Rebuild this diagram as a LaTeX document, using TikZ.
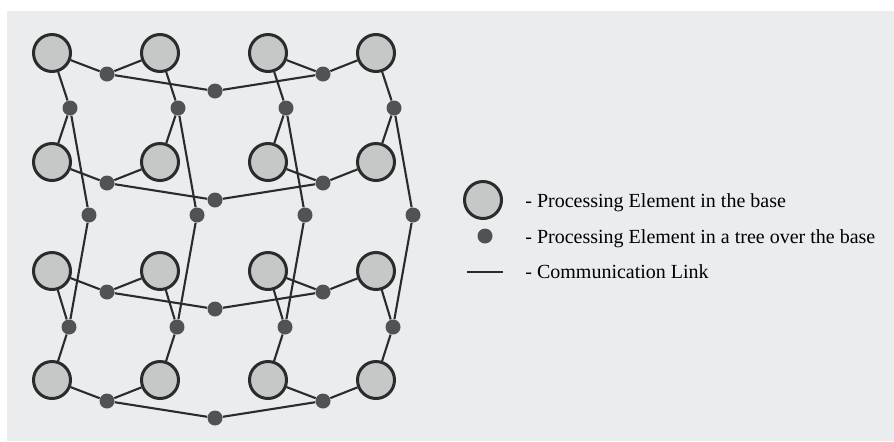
\documentclass[tikz,border=0pt]{standalone}
\usepackage{fontspec}
\setmainfont{Liberation Serif}

\definecolor{bgcol}{HTML}{EBECEE}
\definecolor{pefill}{HTML}{C6C7C7}
\definecolor{dotfill}{HTML}{505355}
\definecolor{linkcol}{HTML}{2A2B2C}

\tikzset{
    pe/.style = {circle, draw = linkcol, line width = 1.5pt, fill = pefill, minimum size = 18.5pt, inner sep = 0pt},
    treenode/.style = {circle, fill = dotfill, minimum size = 7.5pt, inner sep = 0pt},
    link/.style = {line width = 1.05pt, draw = linkcol},
    keytext/.style = {anchor = base west, inner sep = 0pt, font = \fontsize{10}{12}\selectfont}
}

\begin{document}
\begin{tikzpicture}[x = 0.5pt, y = -0.5pt]
                \fill[bgcol] (7,11) rectangle (894,441);
                \useasboundingbox (0,0) rectangle (894,441);
                % base and the row trees
                \foreach \r/\y in {1/53,2/162,3/271,4/380}{
                    \foreach \c/\x in {1/52,2/160,3/268,4/376}
                        \node[pe] (pe-\r-\c) at (\x,\y) {};
                    \node[treenode] (rt-\r-a) at (107,\y+21) {};
                    \node[treenode] (rt-\r-b) at (323,\y+21) {};
                    \node[treenode] (rt-\r-root) at (215,\y+38) {};
                }
                % column trees
                \foreach \c/\x in {1/52,2/160,3/268,4/376}{
                    \node[treenode] (ct-\c-a) at (\x+18,108) {};
                    \node[treenode] (ct-\c-b) at (\x+17,327) {};
                    \node[treenode] (ct-\c-root) at (\x+37,215) {};
                }
                \foreach \r in {1,...,4}{
                    \draw[link] (pe-\r-1) -- (rt-\r-a) -- (pe-\r-2);
                    \draw[link] (pe-\r-3) -- (rt-\r-b) -- (pe-\r-4);
                    \draw[link] (rt-\r-a) -- (rt-\r-root) -- (rt-\r-b);
                }
                \foreach \c in {1,...,4}{
                    \draw[link] (pe-1-\c) -- (ct-\c-a) -- (pe-2-\c);
                    \draw[link] (pe-3-\c) -- (ct-\c-b) -- (pe-4-\c);
                    \draw[link] (ct-\c-a) -- (ct-\c-root) -- (ct-\c-b);
                }
                % key
                \node[pe] (key-pe) at (483,200) {};
                \node[treenode] (key-tree) at (485,236) {};
                \coordinate (key-a) at (467,272);
                \coordinate (key-b) at (503,272);
                \draw[link] (key-a) -- (key-b);
                \node[keytext] (key-pe-text) at (525,207) {- Processing Element in the base};
                \node[keytext] (key-tree-text) at (525,243) {- Processing Element in a tree over the base};
                \node[keytext] (key-link-text) at (525,278) {- Communication Link};
            \end{tikzpicture}
\end{document}
